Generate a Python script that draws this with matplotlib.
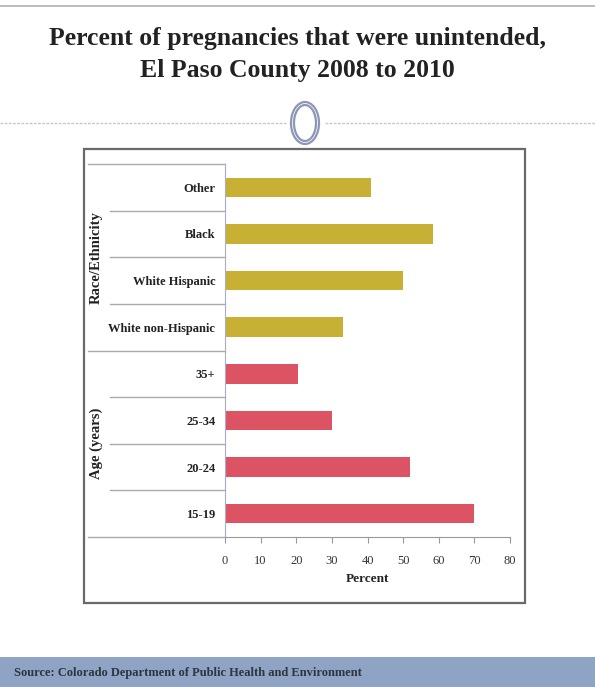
import matplotlib
matplotlib.use("Agg")
import matplotlib.pyplot as plt
import matplotlib.transforms as mtransforms
from matplotlib.patches import Rectangle, Ellipse

W, H = 595, 687

# data, bottom to top
categories = ["15-19", "20-24", "25-34", "35+",
              "White non-Hispanic", "White Hispanic", "Black", "Other"]
percent = [70, 52, 30, 20.5, 33, 50, 58.5, 41]
group = ["age", "age", "age", "age", "race", "race", "race", "race"]
xticks = [0, 10, 20, 30, 40, 50, 60, 70, 80]

GOLD, RED = "#c8b034", "#dc5464"
SERIF = ["Liberation Serif", "DejaVu Serif"]


def fx(x):
    return x / W


def fy(y):
    return 1 - y / H


fig = plt.figure(figsize=(W / 100, H / 100), dpi=100)
fig.patch.set_facecolor("white")

# slide decoration
fig.add_artist(plt.Line2D([0, 1], [fy(6), fy(6)], color="#b0b0b0", lw=1.2))
fig.add_artist(plt.Line2D([fx(0), fx(286)], [fy(123), fy(123)],
                          color="#c8c8c8", lw=1, ls=(0, (2, 1))))
fig.add_artist(plt.Line2D([fx(325), fx(595)], [fy(123), fy(123)],
                          color="#c8c8c8", lw=1, ls=(0, (2, 1))))
for w, h in [(28, 42), (22, 36)]:
    fig.add_artist(Ellipse((fx(305), fy(123)), fx(w), h / H, fill=False,
                           ec="#8e96b8", lw=1.6, transform=fig.transFigure))

fig.text(0.5, fy(39), "Percent of pregnancies that were unintended,",
         ha="center", va="center", fontsize=18.5, fontweight="bold",
         family=SERIF, color="#222222")
fig.text(0.5, fy(71), "El Paso County 2008 to 2010",
         ha="center", va="center", fontsize=18.5, fontweight="bold",
         family=SERIF, color="#222222")

# chart frame
fig.add_artist(Rectangle((fx(84), fy(603)), fx(525 - 84), (603 - 149) / H,
                         fill=False, ec="#6a6a6a", lw=1.6,
                         transform=fig.transFigure))

# source band
fig.add_artist(Rectangle((0, 0), 1, (H - 657) / H, fc="#8fa4c4", ec="none",
                         transform=fig.transFigure))
fig.text(fx(14), fy(673), "Source: Colorado Department of Public Health and Environment",
         ha="left", va="center", fontsize=9, fontweight="bold",
         family=SERIF, color="#2e3440")

# main axes
ax = fig.add_axes([fx(225), fy(537), fx(510 - 225), (537 - 164) / H])
y = list(range(len(categories)))
colors = [RED if g == "age" else GOLD for g in group]
ax.barh(y, percent, height=0.42, color=colors)
ax.set_xlim(0, 80)
ax.set_ylim(-0.5, len(categories) - 0.5)
ax.set_yticks(y)
ax.set_yticklabels(categories, fontsize=9, fontweight="bold", family=SERIF,
                   color="#222")
ax.tick_params(axis="y", length=0, pad=7)
ax.set_xticks(xticks)
ax.set_xticklabels([str(t) for t in xticks], fontsize=9, family=SERIF,
                   color="#333")
ax.tick_params(axis="x", direction="out", length=4, color="#999", pad=9)
ax.set_xlabel("Percent", fontsize=9.5, fontweight="bold", family=SERIF,
              color="#222", labelpad=4)
for s in ["top", "right"]:
    ax.spines[s].set_visible(False)
ax.spines["left"].set_color("#a8aec4")
ax.spines["bottom"].set_color("#9a9a9a")

# category separators to the left of the axis
trans = mtransforms.blended_transform_factory(ax.transAxes, ax.transData)
x_full = (88 - 225) / (510 - 225)
x_short = (110 - 225) / (510 - 225)
for k in range(len(categories) + 1):
    yb = k - 0.5
    full = k in (0, 4, len(categories))
    ax.plot([x_full if full else x_short, 0], [yb, yb], color="#aaaaaa",
            lw=1, transform=trans, clip_on=False)

xg = (96 - 225) / (510 - 225)
ax.text(xg, 5.5, "Race/Ethnicity", rotation=90, ha="center", va="center",
        transform=trans, fontsize=10.5, fontweight="bold", family=SERIF,
        color="#222")
ax.text(xg, 1.5, "Age (years)", rotation=90, ha="center", va="center",
        transform=trans, fontsize=10.5, fontweight="bold", family=SERIF,
        color="#222")

fig.savefig("out.png", dpi=100, facecolor="white")
